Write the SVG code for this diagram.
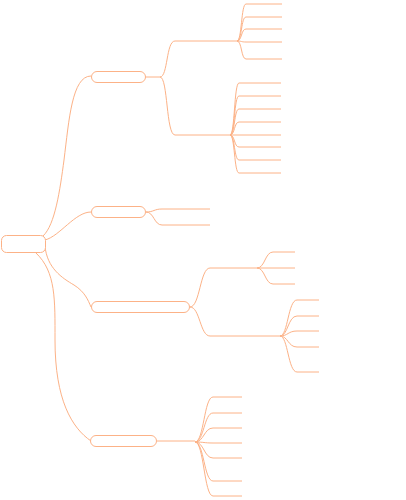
<svg xmlns="http://www.w3.org/2000/svg" width="406" height="500" viewBox="0 0 406 500">
<style>
.e{fill:none;stroke:#fcb287;stroke-width:1}
.n{fill:#fff;stroke:#fcb287;stroke-width:1}
</style>
<rect width="406" height="500" fill="#fff"/>
<g id="connectors">
<path class="e" d="M43,236 C55,225 60,190 64,160 C69,120 72,76 91,76"/>
<path class="e" d="M45,240 C60,236 75,212 91,212"/>
<path class="e" d="M45,246 C47,268 62,278 74,285 C85,292 88,300 91,307"/>
<path class="e" d="M36,253 C56,272 55,300 55,340 C55,400 72,428 91,441"/>
<path class="e" d="M145,77 H160 C168,77 166,41 175,41 H237"/>
<path class="e" d="M160,77 C168,77 166,135 175,135 H230"/>
<path class="e" d="M237,41 C242,41 241,4 246,4 H282 M237,41 C242,41 241,17 246,17 H282 M237,41 C242,41 241,29 246,29 H282 M237,41 C242,41 241,42 246,42 H282 M237,41 C242,41 241,59 246,59 H282"/>
<path class="e" d="M230,135 C235,135 234,83 239,83 H281 M230,135 C235,135 234,96 239,96 H281 M230,135 C235,135 234,109 239,109 H281 M230,135 C235,135 234,122 239,122 H281 M230,135 H281 M230,135 C235,135 234,147 239,147 H281 M230,135 C235,135 234,160 239,160 H281 M230,135 C235,135 234,173 239,173 H281"/>
<path class="e" d="M146,212 C154,212 154,209 162,209 H210 M146,212 C154,212 154,225 162,225 H210"/>
<path class="e" d="M190,307 C200,307 200,268 210,268 H257 M190,307 C200,307 200,336 210,336 H280"/>
<path class="e" d="M257,268 C265,268 265,252 273,252 H295 M257,268 H295 M257,268 C265,268 265,284 273,284 H295"/>
<path class="e" d="M280,336 C288,336 288,300 297,300 H319 M280,336 C288,336 288,316 297,316 H319 M280,336 C288,336 288,331 297,331 H319 M280,336 C288,336 288,347 297,347 H319 M280,336 C288,336 288,372 297,372 H319"/>
<path class="e" d="M157,441 H195 M195,442 C204,442 204,397 213,397 H242 M195,442 C204,442 204,413 213,413 H242 M195,442 C204,442 204,428 213,428 H242 M195,442 C204,442 204,443 213,443 H242 M195,442 C204,442 204,458 213,458 H242 M195,442 C204,442 204,481 213,481 H242 M195,442 C204,442 204,496 213,496 H242"/>
</g>
<g id="root"><rect class="n" x="1.5" y="235.5" width="44" height="17" rx="5"/></g>
<g id="node1"><rect class="n" x="91.5" y="71.5" width="54" height="11" rx="5.5"/></g>
<g id="node2"><rect class="n" x="91.5" y="206.5" width="54" height="11" rx="5.5"/></g>
<g id="node3"><rect class="n" x="91.5" y="301.5" width="98" height="11" rx="5.5"/></g>
<g id="node4"><rect class="n" x="90.5" y="435.5" width="66" height="11" rx="5.5"/></g>
</svg>
